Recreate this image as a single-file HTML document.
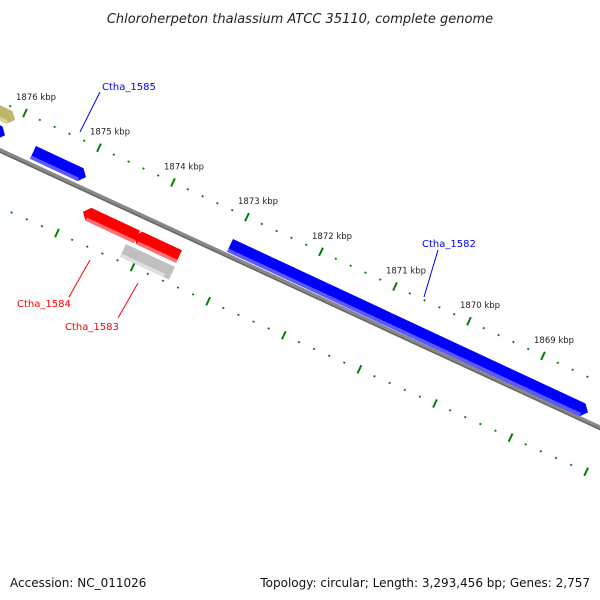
<!DOCTYPE html>
<html><head><meta charset="utf-8"><style>
body{margin:0;background:#fff}
svg{display:block}
text{font-family:"DejaVu Sans","Liberation Sans",sans-serif}
</style></head><body>
<svg id="chart" width="600" height="600" viewBox="0 0 600 600">
<text x="300" y="23" text-anchor="middle" font-size="13" font-style="italic" fill="#222">Chloroherpeton thalassium ATCC 35110, complete genome</text>
<line x1="-5" y1="148" x2="605" y2="430" stroke="#888" stroke-width="4.5"/>
<line x1="-5" y1="149.8" x2="605" y2="431.8" stroke="#666" stroke-width="1.5"/>
<g id="ticks"></g>
<g id="genes"></g>
<g id="labels"></g>
<text x="10" y="587" font-size="12" fill="#111">Accession: NC_011026</text>
<text x="590" y="587" font-size="12" fill="#111" text-anchor="end">Topology: circular; Length: 3,293,456 bp; Genes: 2,757</text>
</svg>
<script>
const majorKbp = [1876,1875,1874,1873,1872,1871,1870,1869];
const majorLabels = ["1876 kbp","1875 kbp","1874 kbp","1873 kbp","1872 kbp","1871 kbp","1870 kbp","1869 kbp"];
const geneNames = ["Ctha_1585","Ctha_1582","Ctha_1584","Ctha_1583","gray-gene","olive-gene","blue-edge-gene"];
const geneStartX = [33,230,83,134,123,-12,-6];
const geneEndX = [86,588,137,179,172,15,5];
const geneOffset = [-11,-10,25,25,45,-35,-15];
const geneDir = [1,1,-1,-1,0,1,1];
const geneColor = ["#0000ff","#0000ff","#ff0000","#ff0000","#c0c0c0","#bdb76b","#0000ff"];
const geneLight = ["#5a5aff","#5a5aff","#ff7070","#ff7070","#e0e0e0","#d8d49a","#5a5aff"];

const NS="http://www.w3.org/2000/svg";
const SL=0.4667, ANG=Math.atan(SL)*180/Math.PI, COS=Math.cos(Math.atan(SL));
function byY(x){return 148+SL*x;}
const ticks=document.getElementById('ticks');
function rowPt(row,k){
  if(row===0) return [25+(1876-k)*74, 113+(1876-k)*34.7];
  return [57+(1876-k)*75.6, 233+(1876-k)*34.1];
}
function tick(row,k,major){
  const p=rowPt(row,k);
  if(p[0]<0||p[0]>596) return;
  const len=major?4.5:0.9;
  const dx=0.423*len, dy=-0.906*len;
  const l=document.createElementNS(NS,'line');
  
  
  l.setAttribute('x1',p[0]-dx);l.setAttribute('y1',p[1]-dy);
  l.setAttribute('x2',p[0]+dx);l.setAttribute('y2',p[1]+dy);
  l.setAttribute('stroke','#008000');l.setAttribute('stroke-width','2');
  ticks.appendChild(l);
}
for(let row=0;row<2;row++){
  for(let i=-3;i<=45;i++){
    const k=1876.6-i*0.2;
    const major=Math.abs(k-Math.round(k))<0.01;
    tick(row,Math.round(k*10)/10,major);
  }
}
majorKbp.forEach((k,i)=>{
  const p=rowPt(0,k);
  const t=document.createElementNS(NS,'text');
  
  
  t.setAttribute('x',p[0]-9);t.setAttribute('y',p[1]-13);
  t.setAttribute('font-size','8.5');t.setAttribute('fill','#222');
  t.textContent=majorLabels[i];
  ticks.appendChild(t);
});
const genes=document.getElementById('genes');
geneNames.forEach((n,i)=>{
  const x1=geneStartX[i], x2=geneEndX[i];
  const L=(x2-x1)/COS, h=14, a=6;
  const g=document.createElementNS(NS,'g');
  
  
  g.setAttribute('transform',`translate(${x1},${byY(x1)+geneOffset[i]}) rotate(${ANG})`);
  let pts;
  if(geneDir[i]===1) pts=`0,${-h/2} ${L-a},${-h/2} ${L},0 ${L-a},${h/2} 0,${h/2}`;
  else if(geneDir[i]===-1) pts=`${a},${-h/2} ${L},${-h/2} ${L},${h/2} ${a},${h/2} 0,0`;
  else pts=`0,${-h/2} ${L},${-h/2} ${L},${h/2} 0,${h/2}`;
  const p=document.createElementNS(NS,'polygon');
  p.setAttribute('points',pts);p.setAttribute('fill',geneColor[i]);
  g.appendChild(p);
  const r=document.createElementNS(NS,'rect');
  r.setAttribute('x',geneDir[i]===-1?a:0);r.setAttribute('y',h/2-3.5);
  r.setAttribute('width',L-a);r.setAttribute('height',3.5);
  r.setAttribute('fill',geneLight[i]);
  g.appendChild(r);
  genes.appendChild(g);
});
const labs=[["Ctha_1585",102,90,"#0000ff",100,92,80,132],["Ctha_1582",422,247,"#0000ff",438,250,424,297],
["Ctha_1584",17,307,"#ff0000",69,297,90,260],["Ctha_1583",65,330,"#ff0000",118,318,138,283]];
const lg=document.getElementById('labels');
labs.forEach(l=>{
  const ln=document.createElementNS(NS,'line');
  
  
  ln.setAttribute('x1',l[4]);ln.setAttribute('y1',l[5]);ln.setAttribute('x2',l[6]);ln.setAttribute('y2',l[7]);
  ln.setAttribute('stroke',l[3]);ln.setAttribute('stroke-width','1');
  lg.appendChild(ln);
  const t=document.createElementNS(NS,'text');
  
  
  t.setAttribute('x',l[1]);t.setAttribute('y',l[2]);t.setAttribute('font-size','10');t.setAttribute('fill',l[3]);
  t.textContent=l[0];
  lg.appendChild(t);
});
</script>
</body></html>
